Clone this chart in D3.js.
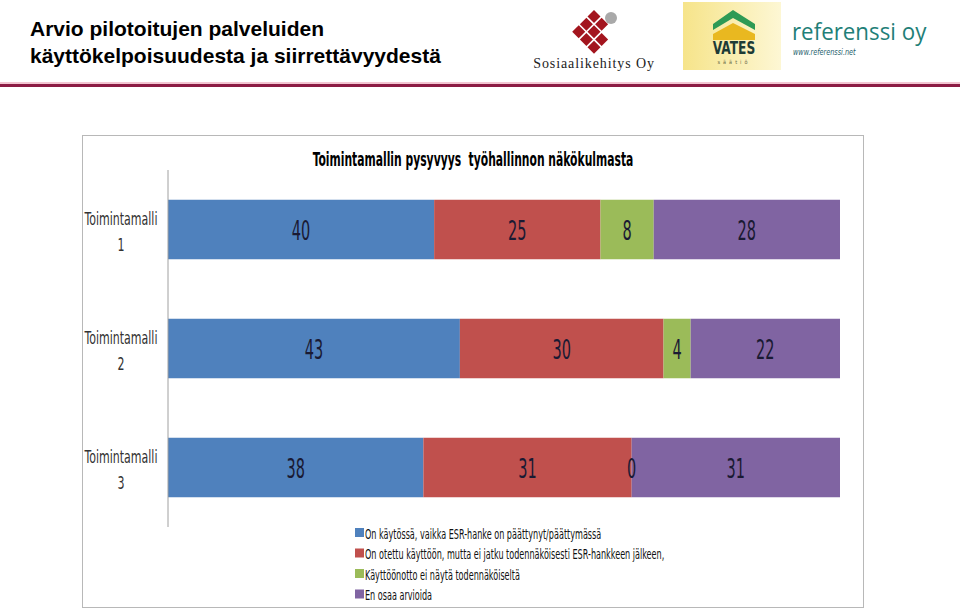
<!DOCTYPE html>
<html><head><meta charset="utf-8">
<script src="https://cdn.jsdelivr.net/npm/d3@7"></script>
<style>
body{margin:0;background:#fff;}
svg{display:block;}
</style></head>
<body><svg id="c" width="960" height="610"></svg>
<script>
const categories = ["Toimintamalli 1", "Toimintamalli 2", "Toimintamalli 3"];
const seriesNames = [
  "On käytössä, vaikka ESR-hanke on päättynyt/päättymässä",
  "On otettu käyttöön, mutta ei jatku todennäköisesti ESR-hankkeen jälkeen,",
  "Käyttöönotto ei näytä todennäköiseltä",
  "En osaa arvioida"
];
const kaytossa   = [40, 43, 38];
const eiJatku    = [25, 30, 31];
const eiTodennak = [8, 4, 0];
const enOsaa     = [28, 22, 31];
const colors = ["#4f81bd", "#c0504d", "#9bbb59", "#8064a2"];
const chartTitle = "Toimintamallin pysyvyys  työhallinnon näkökulmasta";
const pageTitle = ["Arvio pilotoitujen palveluiden", "käyttökelpoisuudesta ja siirrettävyydestä"];

const svg = d3.select("#c");
const NF = '"Liberation Sans Narrow","DejaVu Sans Condensed","Open Sans",sans-serif';

// horizontally condense text (the reference uses a narrow font)
function condense(sel, f){
  sel.each(function(){
    const L = this.getComputedTextLength();
    if (L>0) d3.select(this).attr("textLength", L*f).attr("lengthAdjust","spacingAndGlyphs");
  });
  return sel;
}

// ---------- header ----------
svg.selectAll("text.pt").data(pageTitle).enter().append("text")
  .attr("x", 30).attr("y", (d,i)=>36+i*27)
  .attr("font-family", '"Liberation Sans",Arial,sans-serif').attr("font-weight","bold")
  .attr("font-size", 21).attr("fill","#000").text(d=>d);

svg.append("rect").attr("x",0).attr("y",82).attr("width",960).attr("height",2).attr("fill","#f2c6d2");
svg.append("rect").attr("x",0).attr("y",84).attr("width",960).attr("height",3).attr("fill","#8c1c44");

// Sosiaalikehitys logo
const lg = svg.append("g").attr("transform","translate(594,33) rotate(45)");
const cell = 9.2, gap = 1.6;
for (let r=0;r<3;r++) for (let c=0;c<3;c++){
  if (r===0 && c===2) continue;
  lg.append("rect").attr("x",(c-1.5)*(cell+gap)).attr("y",(r-1.5)*(cell+gap))
    .attr("width",cell).attr("height",cell).attr("fill","#a3151e");
}
svg.append("circle").attr("cx",611).attr("cy",18).attr("r",6).attr("fill","#a9a9a9");
svg.append("text").attr("x",594).attr("y",68).attr("text-anchor","middle")
  .attr("font-family",'"Liberation Serif","DejaVu Serif",serif').attr("font-size",14)
  .attr("letter-spacing",0.9).attr("fill","#222").text("Sosiaalikehitys Oy");

// VATES logo
const grad = svg.append("defs").append("linearGradient").attr("id","vg").attr("x1","0").attr("x2","1").attr("y1","0").attr("y2","0");
grad.append("stop").attr("offset","0").attr("stop-color","#f6e48a");
grad.append("stop").attr("offset","1").attr("stop-color","#fdf7d4");
svg.append("rect").attr("x",683).attr("y",2).attr("width",98).attr("height",68).attr("fill","url(#vg)");
svg.append("path").attr("d","M713,24 L733,10 L755,24 L755,30 L733,18 L713,30 Z").attr("fill","#2e9a55");
svg.append("path").attr("d","M713,34 L733,23 L755,34 L755,40 L713,40 Z").attr("fill","#e9b820");
condense(svg.append("text").attr("x",734).attr("y",54).attr("text-anchor","middle")
  .attr("font-family",NF).attr("font-weight","bold").attr("font-size",17).attr("fill","#1d3b36").text("VATES"), 0.8);
svg.append("text").attr("x",734).attr("y",64).attr("text-anchor","middle")
  .attr("font-family",NF).attr("font-size",5.5).attr("letter-spacing",3).attr("fill","#6b6b4a").text("säätiö");

// referenssi logo
condense(svg.append("text").attr("x",792).attr("y",40)
  .attr("font-family",'"Open Sans","DejaVu Sans",sans-serif').attr("font-size",24).attr("fill","#1f7f78").text("referenssi oy"), 0.93);
condense(svg.append("text").attr("x",793).attr("y",55)
  .attr("font-family",NF).attr("font-style","italic").attr("font-size",8.5).attr("fill","#1f5f6e").text("www.referenssi.net"), 0.85);

// ---------- chart frame ----------
svg.append("rect").attr("x",82.5).attr("y",135.5).attr("width",781).attr("height",472)
  .attr("fill","#fff").attr("stroke","#b8b8b8").attr("stroke-width",1);

condense(svg.append("text").attr("x",473).attr("y",166).attr("text-anchor","middle")
  .attr("font-family",NF).attr("font-weight","bold").attr("font-size",19).attr("fill","#000")
  .style("white-space","pre").text(chartTitle), 0.63);

const table = categories.map((c,i)=>({cat:c, v:[kaytossa[i], eiJatku[i], eiTodennak[i], enOsaa[i]]}));

const y = d3.scaleBand().domain(categories).range([170,527]).paddingInner(0.5).paddingOuter(0.25);
const x = d3.scaleLinear().domain([0,1]).range([168,840]);

table.forEach(row=>{
  const tot = d3.sum(row.v);
  let acc = 0;
  row.segs = row.v.map((v,k)=>{ const s={k, v, x0:acc/tot, x1:(acc+v)/tot}; acc+=v; return s; });
});

const rows = svg.selectAll("g.row").data(table).enter().append("g").attr("class","row")
  .attr("transform", d=>`translate(0,${y(d.cat)})`);

rows.selectAll("rect").data(d=>d.segs).enter().append("rect")
  .attr("x", s=>x(s.x0)).attr("width", s=>x(s.x1)-x(s.x0))
  .attr("y",0).attr("height",y.bandwidth()).attr("fill", s=>colors[s.k]);

condense(rows.selectAll("text.lab").data(d=>d.segs).enter().append("text").attr("class","lab")
  .attr("x", s=>(x(s.x0)+x(s.x1))/2).attr("y", y.bandwidth()/2+10)
  .attr("text-anchor","middle").attr("font-family",NF).attr("font-size",26)
  .attr("fill","#1a1a33").text(s=>s.v), 0.62);

// axis
const yAxis = d3.axisLeft(y).tickSize(0).tickFormat("");
const ax = svg.append("g").attr("transform","translate(168,0)").call(yAxis);
ax.select(".domain").attr("stroke","#a0a0a0").attr("d","M0,170V527");

// category labels (two lines)
categories.forEach(c=>{
  const parts = c.split(" ");
  const cy = y(c) + y.bandwidth()/2;
  parts.forEach((p,j)=>{
    condense(svg.append("text").attr("text-anchor","middle").attr("font-family",NF)
      .attr("font-size",18).attr("fill","#333").attr("x",121).attr("y",cy-5+j*26).text(p), 0.68);
  });
});

// legend
const leg = svg.selectAll("g.leg").data(seriesNames).enter().append("g").attr("class","leg")
  .attr("transform",(d,i)=>`translate(355,${528+i*20.5})`);
leg.append("rect").attr("width",9).attr("height",9).attr("fill",(d,i)=>colors[i]);
condense(leg.append("text").attr("x",10).attr("y",10.5).attr("font-family",NF).attr("font-size",14.5)
  .attr("fill","#111").text(d=>d), 0.62);
</script></body></html>
